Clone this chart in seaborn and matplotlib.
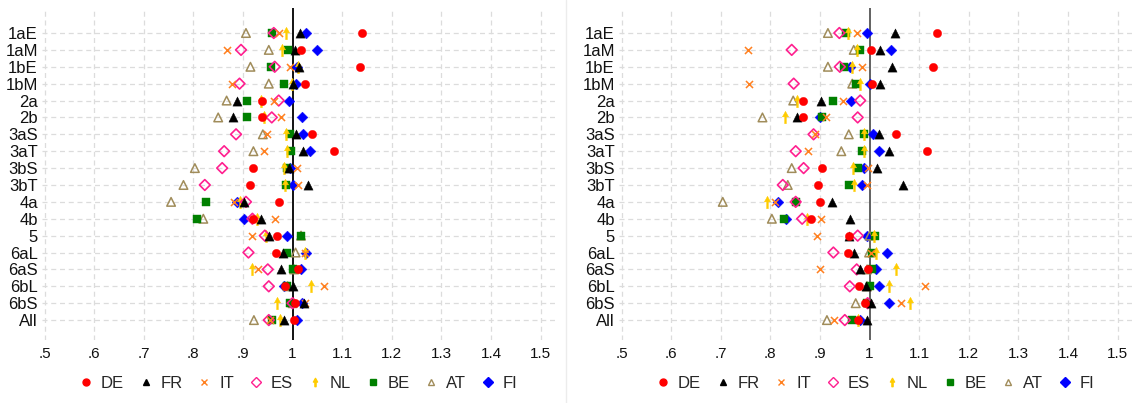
import numpy as np
import pandas as pd
import seaborn as sns
import matplotlib.pyplot as plt
from matplotlib.path import Path
from matplotlib.lines import Line2D

rows = ["1aE", "1aM", "1bE", "1bM", "2a", "2b", "3aS", "3aT", "3bS", "3bT",
        "4a", "4b", "5", "6aL", "6aS", "6bL", "6bS", "All"]
countries = ["DE", "FR", "IT", "ES", "NL", "BE", "AT", "FI"]

# left panel
de_left = [1.140, 1.017, 1.136, 1.026, 0.939, 0.939, 1.040, 1.083, 0.921, 0.915, 0.972, 0.921, 0.968, 0.966, 1.011, 0.985, 1.005, 1.003]
fr_left = [1.015, 1.005, 1.012, 1.000, 0.887, 0.880, 1.007, 1.020, 0.992, 1.032, 0.902, 0.937, 0.953, 0.981, 0.976, 1.001, 1.022, 0.983]
it_left = [0.972, 0.867, 0.995, 0.877, 0.962, 0.977, 0.948, 0.942, 1.008, 1.010, 0.882, 0.964, 0.919, 1.026, 0.931, 1.063, 1.026, 0.954]
es_left = [0.962, 0.896, 0.964, 0.893, 0.972, 0.958, 0.886, 0.862, 0.858, 0.823, 0.906, 0.919, 0.944, 0.911, 0.950, 0.952, 1.000, 0.952]
nl_left = [0.987, 0.978, 1.010, 0.998, 0.937, 0.942, 0.987, 0.988, 0.982, 0.985, 0.894, 0.929, 0.946, 1.024, 0.919, 1.038, 0.969, 0.974]
be_left = [0.958, 0.990, 0.956, 0.983, 0.909, 0.909, 0.995, 0.997, 0.989, 0.986, 0.826, 0.808, 1.017, 0.989, 1.001, 0.988, 0.995, 0.958]
at_left = [0.906, 0.952, 0.915, 0.952, 0.867, 0.850, 0.940, 0.921, 0.803, 0.780, 0.755, 0.820, 1.017, 1.006, 1.003, 0.990, 1.000, 0.922]
fi_left = [1.027, 1.050, 1.008, 1.007, 0.993, 1.018, 1.020, 1.035, 0.994, 1.000, 0.887, 0.902, 0.988, 1.028, 1.017, 0.983, 1.019, 1.008]

# right panel
de_right = [1.136, 1.003, 1.128, 1.005, 0.866, 0.866, 1.053, 1.116, 0.905, 0.896, 0.900, 0.882, 0.958, 0.956, 0.997, 0.979, 0.991, 0.977]
fr_right = [1.052, 1.020, 1.046, 1.021, 0.903, 0.854, 1.018, 1.040, 1.014, 1.067, 0.925, 0.960, 0.958, 0.968, 0.980, 0.992, 1.002, 0.995]
it_right = [0.974, 0.754, 0.985, 0.757, 0.946, 0.913, 0.890, 0.876, 0.997, 0.994, 0.810, 0.902, 0.894, 1.002, 0.901, 1.112, 1.064, 0.929]
es_right = [0.939, 0.843, 0.940, 0.847, 0.981, 0.976, 0.887, 0.851, 0.867, 0.825, 0.851, 0.864, 0.976, 0.927, 0.974, 0.960, 0.996, 0.950]
nl_right = [0.956, 0.974, 0.964, 0.981, 0.853, 0.829, 0.989, 0.989, 0.966, 0.968, 0.793, 0.874, 1.009, 1.013, 1.054, 1.040, 1.081, 0.977]
be_right = [0.952, 0.981, 0.949, 0.973, 0.926, 0.905, 0.988, 0.984, 0.977, 0.958, 0.851, 0.827, 1.010, 1.005, 1.005, 1.001, 0.995, 0.965]
at_right = [0.916, 0.968, 0.916, 0.965, 0.846, 0.784, 0.958, 0.943, 0.843, 0.835, 0.704, 0.803, 1.000, 0.999, 0.995, 0.995, 0.972, 0.914]
fi_right = [0.994, 1.043, 0.961, 1.001, 0.963, 0.900, 1.007, 1.018, 0.988, 0.985, 0.815, 0.832, 0.995, 1.035, 1.013, 1.019, 1.040, 0.980]

xticks = [0.5, 0.6, 0.7, 0.8, 0.9, 1.0, 1.1, 1.2, 1.3, 1.4, 1.5]
xtick_labels = [".5", ".6", ".7", ".8", ".9", "1", "1.1", "1.2", "1.3", "1.4", "1.5"]

left_vals = [de_left, fr_left, it_left, es_left, nl_left, be_left, at_left, fi_left]
right_vals = [de_right, fr_right, it_right, es_right, nl_right, be_right, at_right, fi_right]


def make_df(vals):
    parts = []
    for c, v in zip(countries, vals):
        parts.append(pd.DataFrame({"country": c, "row": np.arange(len(rows)), "value": v}))
    return pd.concat(parts, ignore_index=True)


# little up-arrow marker for NL
arrow = Path([(0, 1), (-0.5, 0.1), (-0.14, 0.1), (-0.14, -1), (0.14, -1),
              (0.14, 0.1), (0.5, 0.1), (0, 1)],
             [Path.MOVETO] + [Path.LINETO] * 6 + [Path.CLOSEPOLY])

# marker, colour, filled, size, linewidth
styles = {
    "DE": ("o", "#ff0000", True, 36, 0),
    "FR": ("^", "#000000", True, 44, 0),
    "IT": ("x", "#ff8020", False, 26, 1.1),
    "ES": ("D", "#ff1f8f", False, 30, 1.2),
    "NL": (arrow, "#ffcc00", True, 80, 0),
    "BE": ("s", "#008000", True, 34, 0),
    "AT": ("^", "#a08c5a", False, 38, 1.1),
    "FI": ("D", "#0000ff", True, 30, 0),
}

sns.set_style("white")
plt.rcParams["font.family"] = ["Liberation Sans", "DejaVu Sans"]

fig = plt.figure(figsize=(11.37, 4.03), dpi=100)
ax_l = fig.add_axes([42 / 1137, 63 / 403, 513 / 1137, 332 / 403])
ax_r = fig.add_axes([619 / 1137, 63 / 403, 513 / 1137, 332 / 403])

for ax, vals, vcol in [(ax_l, left_vals, "#000000"), (ax_r, right_vals, "#555555")]:
    df = make_df(vals)
    for x in xticks:
        if x != 1.0:
            ax.axvline(x, color="#dcdcdc", lw=0.9, ls=(0, (4, 3)), zorder=0)
    for i in range(len(rows)):
        ax.axhline(i, color="#dcdcdc", lw=0.9, ls=(0, (4, 3)), zorder=0)
    ax.axvline(1.0, color=vcol, lw=1.3, zorder=1)

    # drawn back to front so DE ends on top
    for c in countries[::-1]:
        m, col, filled, s, lw = styles[c]
        sub = df[df["country"] == c]
        if m == "x":
            sns.scatterplot(data=sub, x="value", y="row", marker="x", color=col,
                            s=s, linewidth=lw, ax=ax, zorder=3, legend=False)
        elif filled:
            sns.scatterplot(data=sub, x="value", y="row", marker=m, color=col,
                            edgecolor=col, s=s, linewidth=0.3, ax=ax, zorder=3, legend=False)
        else:
            sns.scatterplot(data=sub, x="value", y="row", marker=m, color=col,
                            facecolors="none", edgecolor=col, s=s, linewidth=lw,
                            ax=ax, zorder=3, legend=False)

    ax.set_xlim(0.4948, 1.529)
    ax.set_ylim(18.18, -1.48)
    ax.set_yticks(range(len(rows)))
    ax.set_yticklabels(rows, fontsize=12)
    ax.set_xticks(xticks)
    ax.set_xticklabels(xtick_labels, fontsize=11)
    ax.tick_params(axis="both", length=0, colors="#111111")
    ax.tick_params(axis="x", pad=5)
    ax.tick_params(axis="y", pad=3)
    ax.set_xlabel("")
    ax.set_ylabel("")
    for sp in ax.spines.values():
        sp.set_visible(False)

    handles = []
    for c in countries:
        m, col, filled, s, lw = styles[c]
        ms = 6 if m is arrow else 5
        if filled:
            h = Line2D([], [], ls="", marker=m, color=col, markeredgecolor=col,
                       markersize=ms)
        else:
            h = Line2D([], [], ls="", marker=m, color=col, markerfacecolor="none",
                       markeredgecolor=col, markersize=ms, markeredgewidth=1)
        handles.append(h)
    ax.legend(handles, countries, loc="center", bbox_to_anchor=(0.5, -0.13),
              ncol=8, frameon=False, fontsize=12, handlelength=0.8,
              handletextpad=0.5, columnspacing=0.9)

# faint divider between the two graphs
fig.add_artist(Line2D([566 / 1137, 566 / 1137], [0, 1], color="#ececec", lw=1))

fig.savefig("out.png", dpi=100)
